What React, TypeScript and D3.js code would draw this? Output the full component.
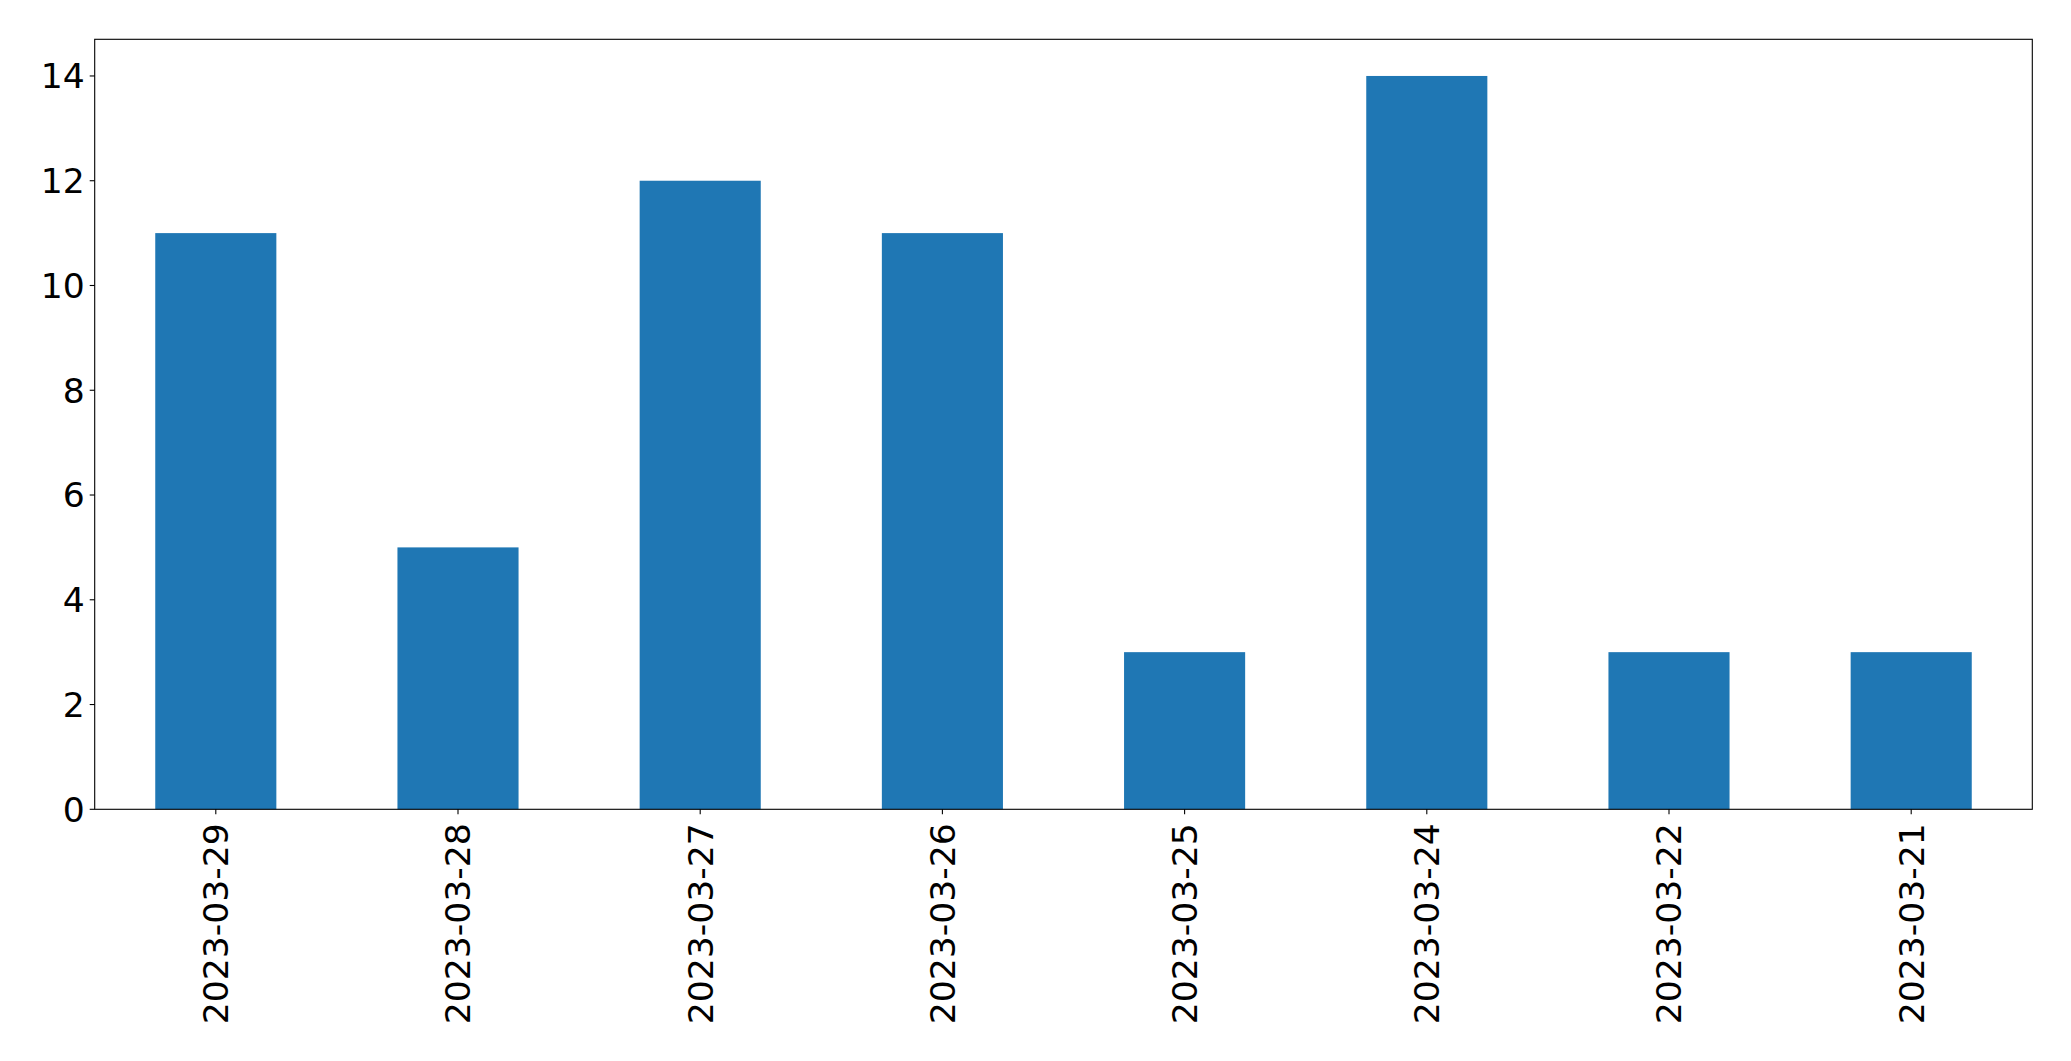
import React from "react";
import * as d3 from "d3";

const categories = ["2023-03-29", "2023-03-28", "2023-03-27", "2023-03-26", "2023-03-25", "2023-03-24", "2023-03-22", "2023-03-21"];
const values = [11, 5, 12, 11, 3, 14, 3, 3];
const yTicks = [0, 2, 4, 6, 8, 10, 12, 14];

export default function App() {
  const W = 2071, H = 1061;
  const left = 94.7, right = 2032.3, top = 39.3, bottom = 809.3;
  const fs = 34.6;
  const x = d3.scaleLinear().domain([-0.5, categories.length - 0.5]).range([left, right]);
  const y = d3.scaleLinear().domain([0, 14.7]).range([bottom, top]);
  const bw = x(0.25) - x(-0.25);
  return (
    <svg width={W} height={H} style={{ position: "absolute", left: 0, top: 0, fontFamily: "DejaVu Sans" }}>
      <rect x={0} y={0} width={W} height={H} fill="white" />
      {values.map((v, i) => (
        <rect key={i} x={x(i) - bw / 2} y={y(v)} width={bw} height={y(0) - y(v)} fill="#1f77b4" />
      ))}
      <rect x={left} y={top} width={right - left} height={bottom - top} fill="none" stroke="black" strokeWidth={1.1} />
      {yTicks.map((t) => (
        <g key={t}>
          <line x1={left - 5} x2={left} y1={y(t)} y2={y(t)} stroke="black" strokeWidth={1.1} />
          <text x={left - 10} y={y(t)} dy="0.36em" textAnchor="end" fontSize={fs} fill="black">{t}</text>
        </g>
      ))}
      {categories.map((c, i) => (
        <g key={c}>
          <line x1={x(i)} x2={x(i)} y1={bottom} y2={bottom + 5} stroke="black" strokeWidth={1.1} />
          <text transform={`translate(${x(i)},${bottom + 14}) rotate(-90)`} dy="0.36em" textAnchor="end" fontSize={fs} fill="black">{c}</text>
        </g>
      ))}
    </svg>
  );
}
